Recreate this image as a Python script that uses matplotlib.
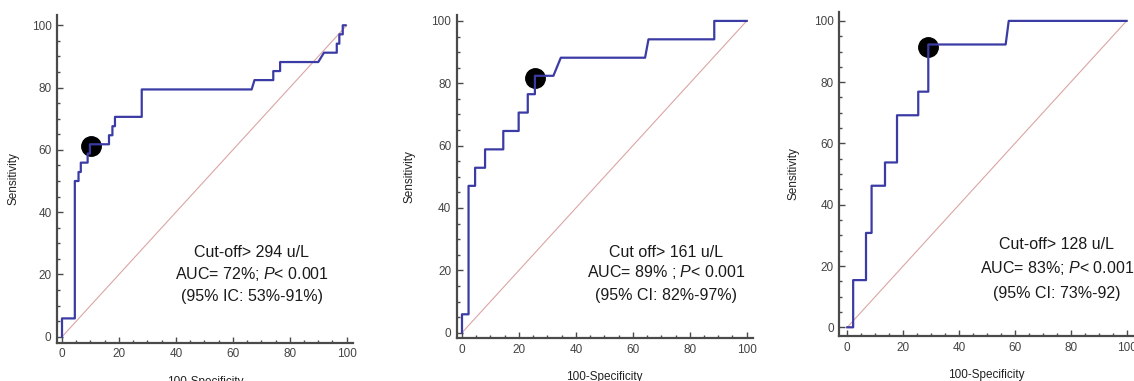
import matplotlib
matplotlib.use('Agg')

import matplotlib.pyplot as plt
from matplotlib.ticker import MultipleLocator

plt.rcParams['font.family'] = ['Liberation Sans', 'DejaVu Sans']
plt.rcParams['mathtext.fontset'] = 'custom'
plt.rcParams['mathtext.rm'] = 'Liberation Sans'
plt.rcParams['mathtext.it'] = 'Liberation Sans:italic'

# ROC step curves (100-Specificity, Sensitivity)
fpr1 = [0, 0, 4.5, 4.5, 5.8, 5.8, 6.6, 6.6, 9.0, 9.0, 9.8, 9.8, 16.5, 16.5, 17.7, 17.7,
        18.6, 18.6, 28.0, 28.0, 66.6, 67.6, 74.2, 74.2, 76.6, 76.6, 90.0, 92.0, 96.5,
        96.5, 97.4, 97.4, 98.6, 98.6, 99.6]
tpr1 = [0, 5.9, 5.9, 50.0, 50.0, 52.9, 52.9, 55.9, 55.9, 58.8, 58.8, 61.8, 61.8, 64.7,
        64.7, 67.6, 67.6, 70.6, 70.6, 79.4, 79.4, 82.4, 82.4, 85.3, 85.3, 88.2, 88.2,
        91.2, 91.2, 94.1, 94.1, 97.1, 97.1, 100, 100]

fpr2 = [0, 0, 2.3, 2.3, 4.6, 4.6, 8.1, 8.1, 14.5, 14.5, 19.9, 19.9, 23.1, 23.1, 25.6,
        25.6, 32.1, 34.7, 64.3, 65.5, 88.6, 88.6, 100]
tpr2 = [0, 5.9, 5.9, 47.1, 47.1, 52.9, 52.9, 58.8, 58.8, 64.7, 64.7, 70.6, 70.6, 76.5,
        76.5, 82.4, 82.4, 88.2, 88.2, 94.1, 94.1, 100, 100]

fpr3 = [0, 2.1, 2.1, 6.7, 6.7, 8.7, 8.7, 13.5, 13.5, 17.8, 17.8, 25.4, 25.4, 29.0, 29.0,
        56.7, 57.8, 100]
tpr3 = [0, 0, 15.4, 15.4, 30.8, 30.8, 46.2, 46.2, 53.8, 53.8, 69.2, 69.2, 76.9, 76.9,
        92.3, 92.3, 100, 100]

# optimal cut-off points
cut_x = [10.3, 25.8, 28.9]
cut_y = [61.2, 81.6, 91.4]

texts = [
    ['Cut-off> 294 u/L', 'AUC= 72%; $\\it{P}$< 0.001', '(95% IC: 53%-91%)'],
    ['Cut off> 161 u/L', 'AUC= 89% ; $\\it{P}$< 0.001', '(95% CI: 82%-97%)'],
    ['Cut-off> 128 u/L', 'AUC= 83%; $\\it{P}$< 0.001', '(95% CI: 73%-92)'],
]

W, H = 1134, 381
fig = plt.figure(figsize=(W / 100, H / 100), dpi=100)

# pixel boxes: left, right, top, bottom of the axes; and limits
boxes = [(57, 353, 15, 342.7), (456.7, 752.7, 15, 338.3), (839.3, 1133.6, 11.7, 336)]
lims = [((-1.76, 102.2), (-1.9, 103.3)),
        ((-1.86, 102.1), (-1.8, 101.9)),
        ((-2.86, 102.5), (-2.84, 103.0))]
text_pos = [(66.7, [26.9, 20.2, 12.8]), (71.8, [25.7, 19.4, 11.9]), (75.0, [26.9, 19.2, 11.0])]
ylab_pad = [9, 11, 10]

curves = [(fpr1, tpr1), (fpr2, tpr2), (fpr3, tpr3)]
blue = '#3b3ba6'
spine_c = '#4a4a4a'

for i in range(3):
    l, r, t, b = boxes[i]
    ax = fig.add_axes([l / W, 1 - b / H, (r - l) / W, (b - t) / H])
    ax.set_xlim(*lims[i][0])
    ax.set_ylim(*lims[i][1])
    ax.plot([0, 100], [0, 100], color='#dba5a5', lw=0.8)
    fx, ty = curves[i]
    ax.plot(cut_x[i], cut_y[i], 'o', color='black', ms=14, zorder=1)
    ax.plot(fx, ty, color=blue, lw=1.6, zorder=3)
    tx, tys = text_pos[i]
    for s, yy in zip(texts[i], tys):
        ax.text(tx, yy, s, ha='center', va='center', fontsize=11.5, color='#1a1a1a')

    for side in ['top', 'right']:
        ax.spines[side].set_visible(False)
    for side in ['left', 'bottom']:
        ax.spines[side].set_color(spine_c)
        ax.spines[side].set_linewidth(1.6)
    ax.xaxis.set_major_locator(MultipleLocator(20))
    ax.xaxis.set_minor_locator(MultipleLocator(5))
    ax.yaxis.set_major_locator(MultipleLocator(20))
    ax.yaxis.set_minor_locator(MultipleLocator(5))
    ax.tick_params(which='major', direction='in', length=4, width=1, color=spine_c,
                   labelsize=8.5, labelcolor='#444444', pad=4)
    ax.tick_params(which='minor', direction='in', length=2.5, width=1, color=spine_c)
    ax.set_xlabel('100-Specificity', fontsize=8.5, color='#222222', labelpad=11)
    ax.set_ylabel('Sensitivity', fontsize=8.5, color='#222222', labelpad=ylab_pad[i])

plt.savefig('out.png', dpi=100)
plt.close(fig)
